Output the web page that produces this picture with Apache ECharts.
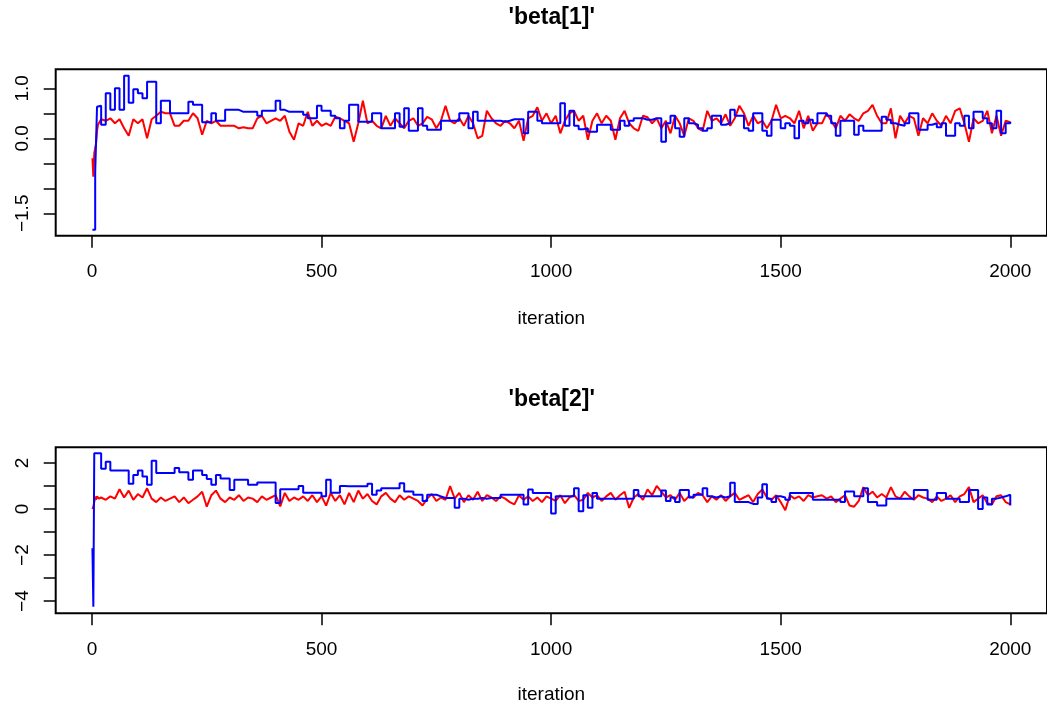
<!DOCTYPE html>
<html>
<head>
<meta charset="utf-8">
<script src="https://cdn.jsdelivr.net/npm/echarts@6/dist/echarts.min.js"></script>
<style>
html,body{margin:0;padding:0;background:#fff;}
#chart{width:1047px;height:708px;}
</style>
</head>
<body>
<div id="chart"></div>
<script>
// ---- data ----
const iterations = [1,3,5,7,9,11,13,15,
 20,30,40,50,60,70,80,90,100,
 110,120,130,140,150,160,170,180,190,200,
 210,220,230,240,250,260,270,280,290,300,
 310,320,330,340,350,360,370,380,390,400,
 410,420,430,440,450,460,470,480,490,500,
 510,520,530,540,550,560,570,580,590,600,
 610,620,630,640,650,660,670,680,690,700,
 710,720,730,740,750,760,770,780,790,800,
 810,820,830,840,850,860,870,880,890,900,
 910,920,930,940,950,960,970,980,990,1000,
 1010,1020,1030,1040,1050,1060,1070,1080,1090,1100,
 1110,1120,1130,1140,1150,1160,1170,1180,1190,1200,
 1210,1220,1230,1240,1250,1260,1270,1280,1290,1300,
 1310,1320,1330,1340,1350,1360,1370,1380,1390,1400,
 1410,1420,1430,1440,1450,1460,1470,1480,1490,1500,
 1510,1520,1530,1540,1550,1560,1570,1580,1590,1600,
 1610,1620,1630,1640,1650,1660,1670,1680,1690,1700,
 1710,1720,1730,1740,1750,1760,1770,1780,1790,1800,
 1810,1820,1830,1840,1850,1860,1870,1880,1890,1900,
 1910,1920,1930,1940,1950,1960,1970,1980,1990,2000];

const beta1Red = [-0.4,-0.77,-0.3,-0.2,-0.1,0.15,0.27,0.3,
 0.38,0.35,0.4,0.3,0.38,0.2,0.05,0.38,0.3,
 0.38,0.0,0.38,0.45,0.53,0.5,0.5,0.25,0.25,0.35,
 0.35,0.5,0.4,0.07,0.35,0.3,0.35,0.25,0.25,0.25,
 0.25,0.2,0.22,0.2,0.2,0.4,0.45,0.3,0.35,0.4,
 0.35,0.45,0.13,-0.03,0.3,0.25,0.53,0.25,0.35,0.25,
 0.3,0.25,0.43,0.4,0.35,0.3,-0.07,0.3,0.75,0.3,
 0.35,0.25,0.2,0.45,0.25,0.4,0.3,0.2,0.35,0.4,
 0.25,0.3,0.43,0.38,0.2,0.35,0.65,0.35,0.3,0.4,
 0.25,0.45,0.3,0.0,0.05,0.55,0.4,0.3,0.25,0.35,
 0.3,0.2,0.35,-0.05,0.4,0.45,0.62,0.35,0.5,0.3,
 0.45,0.1,0.35,0.5,0.55,0.35,0.45,-0.03,0.35,0.5,
 0.3,0.45,0.35,-0.03,0.4,0.55,0.3,0.2,0.15,0.45,
 0.42,0.3,0.4,0.2,0.35,0.1,0.45,0.3,0.05,0.4,
 0.35,0.2,0.15,0.55,0.35,0.4,0.3,0.48,0.25,0.4,
 0.65,0.5,0.25,0.45,0.3,0.35,0.2,0.35,0.67,0.4,
 0.45,0.4,0.3,0.55,0.2,0.45,0.15,0.3,0.3,0.5,
 0.35,0.2,0.45,0.35,0.48,0.4,0.35,0.5,0.55,0.67,
 0.45,0.3,0.3,0.6,0.0,0.45,0.3,0.45,0.4,0.05,
 0.4,0.3,0.5,0.35,0.25,0.45,0.3,0.55,0.6,0.3,
 -0.07,0.4,0.3,0.35,0.55,0.1,0.45,0.05,0.35,0.32];

const beta1Blue = [-1.83,-1.83,-1.83,-0.7,-0.7,0.63,0.65,0.65,
 0.27,0.9,0.57,1.0,0.57,1.25,0.71,0.98,0.9,
 0.8,1.13,1.13,0.3,0.75,0.75,0.5,0.5,0.5,0.5,
 0.73,0.67,0.67,0.32,0.32,0.5,0.35,0.35,0.57,0.57,
 0.57,0.53,0.53,0.53,0.53,0.45,0.55,0.55,0.55,0.75,
 0.57,0.53,0.53,0.53,0.53,0.47,0.4,0.4,0.65,0.55,
 0.55,0.45,0.4,0.2,0.35,0.67,0.67,0.33,0.33,0.33,
 0.5,0.5,0.2,0.2,0.2,0.5,0.23,0.6,0.15,0.15,
 0.6,0.25,0.17,0.17,0.17,0.35,0.35,0.35,0.35,0.5,
 0.5,0.2,0.53,0.35,0.35,0.35,0.35,0.35,0.33,0.35,
 0.38,0.38,0.38,0.1,0.53,0.53,0.35,0.3,0.3,0.3,
 0.3,0.7,0.25,0.55,0.25,0.18,0.2,0.13,0.13,0.27,
 0.27,0.27,0.17,0.17,0.35,0.25,0.35,0.4,0.4,0.37,
 0.37,0.4,0.4,-0.07,0.3,0.45,0.2,0.03,0.4,0.3,
 0.27,0.2,0.15,0.2,0.45,0.45,0.27,0.3,0.57,0.45,
 0.45,0.2,0.15,0.5,0.5,0.15,0.05,0.37,0.37,0.2,
 0.3,0.25,0.0,0.35,0.3,0.37,0.3,0.5,0.5,0.45,
 0.3,0.05,0.35,0.35,0.35,0.07,0.25,0.15,0.15,0.15,
 0.15,0.43,0.37,0.3,0.27,0.25,0.3,0.5,0.5,0.17,
 0.17,0.27,0.3,0.22,0.3,0.05,0.05,0.3,0.25,0.45,
 0.2,0.53,0.53,0.4,0.3,0.2,0.55,0.1,0.3,0.33];

const beta2Red = [0.0,0.1,0.3,0.55,0.4,0.55,0.5,0.45,
 0.5,0.4,0.55,0.45,0.86,0.5,0.8,0.4,0.65,
 0.5,0.9,0.45,0.3,0.5,0.35,0.45,0.55,0.3,0.5,
 0.25,0.4,0.55,0.75,0.1,0.6,0.8,0.45,0.3,0.5,
 0.4,0.6,0.35,0.5,0.45,0.3,0.55,0.4,0.5,0.6,
 0.11,0.7,0.35,0.5,0.4,0.55,0.35,0.6,0.3,0.55,
 0.15,0.7,0.35,0.6,0.2,0.7,0.3,0.8,0.45,0.65,
 0.35,0.2,0.55,0.7,0.45,0.3,0.6,0.4,0.55,0.45,
 0.35,0.15,0.45,0.65,0.35,0.5,0.4,1.0,0.45,0.7,
 0.3,0.6,0.4,0.75,0.35,0.6,0.5,0.35,0.55,0.45,
 0.3,0.2,0.6,0.4,0.55,0.35,0.5,0.3,0.55,0.45,
 0.35,0.6,0.25,0.5,0.6,0.35,0.4,0.7,0.5,0.6,
 0.35,0.55,0.7,0.4,0.6,0.75,0.05,0.5,0.65,0.4,
 0.85,0.6,1.0,0.75,0.5,0.6,0.4,0.7,0.35,0.55,
 0.5,0.7,0.6,0.3,0.55,0.4,0.6,0.35,0.55,0.7,
 0.4,0.5,0.6,0.3,0.65,0.85,0.5,0.4,0.6,0.3,
 -0.05,0.6,0.45,0.55,0.35,0.6,0.5,0.55,0.6,0.45,
 0.55,0.3,0.45,0.6,0.15,0.1,0.35,0.95,0.6,0.75,
 0.5,0.65,0.5,0.95,0.55,0.45,0.75,0.55,0.4,0.6,
 0.5,0.45,0.3,0.55,0.35,0.45,0.6,0.3,0.55,0.65,
 0.95,0.3,0.45,0.6,0.25,0.2,0.55,0.6,0.3,0.2];

const beta2Blue = [-1.7,-4.25,2.42,2.42,2.42,2.42,2.42,2.42,
 1.75,2.05,1.67,1.67,1.67,1.67,1.1,1.48,1.67,
 1.41,1.05,2.1,1.56,1.56,1.56,1.56,1.78,1.6,1.6,
 1.27,1.67,1.67,1.48,1.3,1.05,1.48,1.33,1.33,0.83,
 1.27,1.27,1.27,1.05,1.05,1.15,1.15,1.15,1.15,0.26,
 0.86,0.86,0.86,0.86,1.0,0.71,0.71,0.71,0.71,0.55,
 1.27,0.71,0.71,1.0,0.99,0.99,0.99,0.99,0.99,1.1,
 0.62,0.8,0.9,0.9,0.9,0.9,1.12,0.76,0.76,0.62,
 0.62,0.35,0.62,0.62,0.55,0.48,0.48,0.48,0.05,0.45,
 0.4,0.45,0.45,0.48,0.45,0.48,0.48,0.48,0.62,0.62,
 0.62,0.62,0.62,0.2,0.85,0.69,0.69,0.69,0.69,-0.2,
 0.55,0.55,0.55,0.55,0.9,-0.1,0.6,0.05,0.7,0.45,
 0.45,0.45,0.45,0.45,0.45,0.45,0.45,0.83,0.55,0.55,
 0.55,0.55,0.55,0.8,0.35,0.5,0.3,0.83,0.83,0.5,
 0.62,0.62,0.9,0.55,0.5,0.55,0.5,0.55,1.14,0.3,
 0.3,0.3,0.22,0.22,0.5,1.08,0.45,0.3,0.55,0.5,
 0.4,0.69,0.69,0.69,0.69,0.69,0.4,0.4,0.4,0.4,
 0.4,0.4,0.3,0.76,0.76,0.55,0.55,0.9,0.3,0.3,
 0.15,0.15,0.45,0.45,0.45,0.45,0.45,0.45,0.83,0.83,
 0.83,0.4,0.4,0.7,0.7,0.45,0.45,0.45,0.3,0.3,
 0.83,0.83,0.0,0.5,0.2,0.45,0.5,0.55,0.62,0.15];

const titles = ["'beta[1]'", "'beta[2]'"];
const xName = 'iteration';
const xTicks = [0, 500, 1000, 1500, 2000];
const beta1Ticks = [-1.5, -1.0, -0.5, 0.0, 0.5, 1.0];
const beta1Labels = [-1.5, 0.0, 1.0];
const beta2Ticks = [-4, -3, -2, -1, 0, 1, 2];
const beta2Labels = [-4, -2, 0, 2];

// ---- chart ----
const FONT = '"Liberation Sans", Arial, Helvetica, sans-serif';
const pair = (ys) => iterations.map((x, i) => [x, ys[i]]);
const fmtMinus = (s) => s.replace('-', '\u2212');

const grids = [
  {left: 55.7, top: 69.3, width: 992, height: 166.4},
  {left: 55.7, top: 447.3, width: 992, height: 166}
];

function xAxisFor(idx, gap) {
  return {
    type: 'value', gridIndex: idx, min: -79, max: 2080,
    name: xName, nameLocation: 'middle', nameGap: gap,
    nameTextStyle: {fontSize: 19, color: '#000', fontFamily: FONT},
    axisLine: {show: false, onZero: false},
    axisTick: {show: true, customValues: xTicks, length: 12, inside: false,
               lineStyle: {color: '#000', width: 1.5}},
    axisLabel: {customValues: xTicks, fontSize: 19, color: '#000', fontFamily: FONT, margin: 27,
                formatter: (v) => String(Math.round(v))},
    splitLine: {show: false}
  };
}
function yAxisFor(idx, min, max, ticks, labels, digits) {
  return {
    type: 'value', gridIndex: idx, min: min, max: max,
    axisLine: {show: false, onZero: false},
    axisTick: {show: true, customValues: ticks, length: 12, inside: false,
               lineStyle: {color: '#000', width: 1.5}},
    axisLabel: {customValues: labels, rotate: 90, fontSize: 19, color: '#000', fontFamily: FONT,
                margin: 23, formatter: (v) => fmtMinus(Number(v).toFixed(digits))},
    splitLine: {show: false}
  };
}

const chart = echarts.init(document.getElementById('chart'), null, {renderer: 'canvas'});
chart.setOption({
  animation: false,
  backgroundColor: '#fff',
  title: [
    {text: titles[0], left: 551.7, top: 6, textAlign: 'center', padding: 0,
     textStyle: {fontSize: 23, fontWeight: 'bold', color: '#000', fontFamily: FONT}},
    {text: titles[1], left: 551.7, top: 388, textAlign: 'center', padding: 0,
     textStyle: {fontSize: 23, fontWeight: 'bold', color: '#000', fontFamily: FONT}}
  ],
  grid: grids.map(g => Object.assign({show: true, borderColor: '#000', borderWidth: 2,
                                        backgroundColor: 'transparent', containLabel: false}, g)),
  xAxis: [xAxisFor(0, 74), xAxisFor(1, 72)],
  yAxis: [
    yAxisFor(0, -1.948, 1.38, beta1Ticks, beta1Labels, 1),
    yAxisFor(1, -4.53, 2.68, beta2Ticks, beta2Labels, 0)
  ],
  series: [
    {type: 'line', xAxisIndex: 0, yAxisIndex: 0, data: pair(beta1Red), showSymbol: false,
     lineStyle: {color: '#ff0000', width: 2}, itemStyle: {color: '#ff0000'}, z: 2},
    {type: 'line', xAxisIndex: 0, yAxisIndex: 0, data: pair(beta1Blue), showSymbol: false, step: 'end',
     lineStyle: {color: '#0000ff', width: 2}, itemStyle: {color: '#0000ff'}, z: 3},
    {type: 'line', xAxisIndex: 1, yAxisIndex: 1, data: pair(beta2Red), showSymbol: false,
     lineStyle: {color: '#ff0000', width: 2}, itemStyle: {color: '#ff0000'}, z: 2},
    {type: 'line', xAxisIndex: 1, yAxisIndex: 1, data: pair(beta2Blue), showSymbol: false, step: 'end',
     lineStyle: {color: '#0000ff', width: 2}, itemStyle: {color: '#0000ff'}, z: 3}
  ]
});
</script>
</body>
</html>
